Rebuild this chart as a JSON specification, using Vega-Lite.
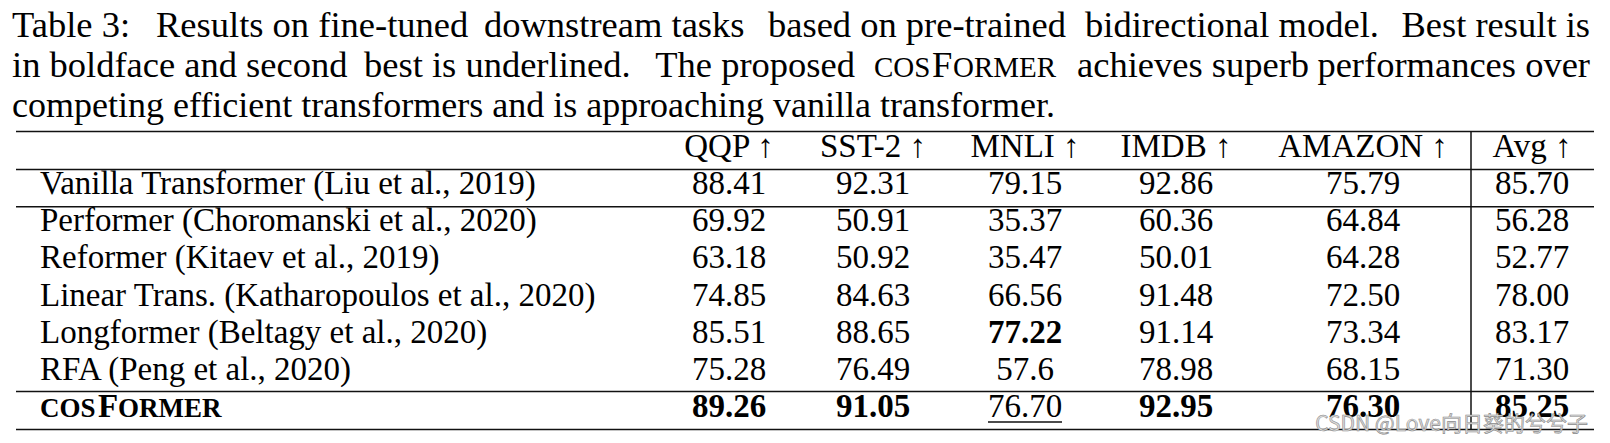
{
  "$schema": "https://vega.github.io/schema/vega-lite/v6.json",
  "width": 1610,
  "height": 443,
  "autosize": {"type": "none"},
  "padding": 0,
  "background": "white",
  "config": {"view": {"stroke": null}, "text": {"font": "Liberation Serif", "baseline": "alphabetic", "color": "black"}},
  "datasets": {
    "table": [
      {"row": 0, "col": 1, "kind": "header", "label": "QQP ↑"},
      {"row": 0, "col": 2, "kind": "header", "label": "SST-2 ↑"},
      {"row": 0, "col": 3, "kind": "header", "label": "MNLI ↑"},
      {"row": 0, "col": 4, "kind": "header", "label": "IMDB ↑"},
      {"row": 0, "col": 5, "kind": "header", "label": "AMAZON ↑"},
      {"row": 0, "col": 6, "kind": "header", "label": "Avg ↑"},
      {"row": 1, "col": 0, "kind": "name", "label": "Vanilla Transformer (Liu et al., 2019)"},
      {"row": 2, "col": 0, "kind": "name", "label": "Performer (Choromanski et al., 2020)"},
      {"row": 3, "col": 0, "kind": "name", "label": "Reformer (Kitaev et al., 2019)"},
      {"row": 4, "col": 0, "kind": "name", "label": "Linear Trans.  (Katharopoulos et al., 2020)"},
      {"row": 5, "col": 0, "kind": "name", "label": "Longformer (Beltagy et al., 2020)"},
      {"row": 6, "col": 0, "kind": "name", "label": "RFA (Peng et al., 2020)"},
      {"row": 7, "col": 0, "kind": "sc1", "label": "COS"},
      {"row": 7, "col": 0, "kind": "sc2", "label": "F"},
      {"row": 7, "col": 0, "kind": "sc3", "label": "ORMER"},
      {"row": 1, "col": 1, "kind": "value", "rank": "", "label": "88.41"},
      {"row": 1, "col": 2, "kind": "value", "rank": "", "label": "92.31"},
      {"row": 1, "col": 3, "kind": "value", "rank": "", "label": "79.15"},
      {"row": 1, "col": 4, "kind": "value", "rank": "", "label": "92.86"},
      {"row": 1, "col": 5, "kind": "value", "rank": "", "label": "75.79"},
      {"row": 1, "col": 6, "kind": "value", "rank": "", "label": "85.70"},
      {"row": 2, "col": 1, "kind": "value", "rank": "", "label": "69.92"},
      {"row": 2, "col": 2, "kind": "value", "rank": "", "label": "50.91"},
      {"row": 2, "col": 3, "kind": "value", "rank": "", "label": "35.37"},
      {"row": 2, "col": 4, "kind": "value", "rank": "", "label": "60.36"},
      {"row": 2, "col": 5, "kind": "value", "rank": "", "label": "64.84"},
      {"row": 2, "col": 6, "kind": "value", "rank": "", "label": "56.28"},
      {"row": 3, "col": 1, "kind": "value", "rank": "", "label": "63.18"},
      {"row": 3, "col": 2, "kind": "value", "rank": "", "label": "50.92"},
      {"row": 3, "col": 3, "kind": "value", "rank": "", "label": "35.47"},
      {"row": 3, "col": 4, "kind": "value", "rank": "", "label": "50.01"},
      {"row": 3, "col": 5, "kind": "value", "rank": "", "label": "64.28"},
      {"row": 3, "col": 6, "kind": "value", "rank": "", "label": "52.77"},
      {"row": 4, "col": 1, "kind": "value", "rank": "", "label": "74.85"},
      {"row": 4, "col": 2, "kind": "value", "rank": "", "label": "84.63"},
      {"row": 4, "col": 3, "kind": "value", "rank": "", "label": "66.56"},
      {"row": 4, "col": 4, "kind": "value", "rank": "", "label": "91.48"},
      {"row": 4, "col": 5, "kind": "value", "rank": "", "label": "72.50"},
      {"row": 4, "col": 6, "kind": "value", "rank": "", "label": "78.00"},
      {"row": 5, "col": 1, "kind": "value", "rank": "", "label": "85.51"},
      {"row": 5, "col": 2, "kind": "value", "rank": "", "label": "88.65"},
      {"row": 5, "col": 3, "kind": "value", "rank": "best", "label": "77.22"},
      {"row": 5, "col": 4, "kind": "value", "rank": "", "label": "91.14"},
      {"row": 5, "col": 5, "kind": "value", "rank": "", "label": "73.34"},
      {"row": 5, "col": 6, "kind": "value", "rank": "", "label": "83.17"},
      {"row": 6, "col": 1, "kind": "value", "rank": "", "label": "75.28"},
      {"row": 6, "col": 2, "kind": "value", "rank": "", "label": "76.49"},
      {"row": 6, "col": 3, "kind": "value", "rank": "", "label": "57.6"},
      {"row": 6, "col": 4, "kind": "value", "rank": "", "label": "78.98"},
      {"row": 6, "col": 5, "kind": "value", "rank": "", "label": "68.15"},
      {"row": 6, "col": 6, "kind": "value", "rank": "", "label": "71.30"},
      {"row": 7, "col": 1, "kind": "value", "rank": "best", "label": "89.26"},
      {"row": 7, "col": 2, "kind": "value", "rank": "best", "label": "91.05"},
      {"row": 7, "col": 3, "kind": "value", "rank": "second", "label": "76.70"},
      {"row": 7, "col": 4, "kind": "value", "rank": "best", "label": "92.95"},
      {"row": 7, "col": 5, "kind": "value", "rank": "best", "label": "76.30"},
      {"row": 7, "col": 6, "kind": "value", "rank": "best", "label": "85.25"}
    ],
    "caption": [
      {"row": -3, "col": -1, "piece": "l1a", "text": "Table 3:"},
      {"row": -3, "col": -1, "piece": "l1b", "text": "Results on fine-tuned"},
      {"row": -3, "col": -1, "piece": "l1c", "text": "downstream tasks"},
      {"row": -3, "col": -1, "piece": "l1d", "text": "based on pre-trained"},
      {"row": -3, "col": -1, "piece": "l1e", "text": "bidirectional model."},
      {"row": -3, "col": 7, "piece": "right", "text": "Best result is"},
      {"row": -2, "col": -1, "piece": "l1a", "text": "in boldface and second"},
      {"row": -2, "col": -1, "piece": "l2b", "text": "best is underlined."},
      {"row": -2, "col": -1, "piece": "l2c", "text": "The proposed"},
      {"row": -2, "col": -1, "piece": "sc1", "text": "COS"},
      {"row": -2, "col": -1, "piece": "sc2", "text": "F"},
      {"row": -2, "col": -1, "piece": "sc3", "text": "ORMER"},
      {"row": -2, "col": -1, "piece": "l2d", "text": "achieves superb"},
      {"row": -2, "col": 7, "piece": "right", "text": "performances over"},
      {"row": -1, "col": -1, "piece": "l3", "text": "competing efficient transformers and is approaching vanilla transformer."}
    ],
    "rules": [
      {"row": 0, "end_row": 0, "col": -1, "end_col": 7, "pos": "above"},
      {"row": 0, "end_row": 0, "col": -1, "end_col": 7, "pos": "below"},
      {"row": 1, "end_row": 1, "col": -1, "end_col": 7, "pos": "below"},
      {"row": 7, "end_row": 7, "col": -1, "end_col": 7, "pos": "above"},
      {"row": 7, "end_row": 7, "col": -1, "end_col": 7, "pos": "below"}
    ],
    "vrule": [
      {"row": 0, "end_row": 7, "col": 6, "end_col": 6, "pos": "before Avg"}
    ],
    "watermark": [
      {"row": 7, "col": 7, "text": "CSDN @Love向日葵的兮兮子"}
    ]
  },
  "encoding": {
    "x": {"field": "col", "type": "quantitative", "axis": null,
      "scale": {"type": "linear", "domain": [-1, 0, 1, 2, 3, 4, 5, 6, 7], "range": [16, 40, 729, 873, 1025, 1176, 1363, 1532, 1594], "zero": false, "nice": false}},
    "y": {"field": "row", "type": "quantitative", "axis": null,
      "scale": {"type": "linear", "domain": [-3, -1, 0, 7], "range": [37, 117, 157, 417], "zero": false, "nice": false}}
  },
  "layer": [
    {
      "data": {"name": "rules"},
      "transform": [{"filter": "datum.pos === 'above'"}],
      "mark": {"type": "rule", "stroke": "#111", "strokeWidth": 1.5, "yOffset": -25.5, "y2Offset": -25.5},
      "encoding": {"x2": {"field": "end_col"}, "y2": {"field": "end_row"}}
    },
    {
      "data": {"name": "rules"},
      "transform": [{"filter": "datum.pos === 'below'"}],
      "mark": {"type": "rule", "stroke": "#111", "strokeWidth": 1.5, "yOffset": 12.5, "y2Offset": 12.5},
      "encoding": {"x2": {"field": "end_col"}, "y2": {"field": "end_row"}}
    },
    {
      "data": {"name": "vrule"},
      "mark": {"type": "rule", "stroke": "#111", "strokeWidth": 1.5, "xOffset": -61, "x2Offset": -61, "yOffset": -25.5, "y2Offset": 12.5},
      "encoding": {"x2": {"field": "end_col"}, "y2": {"field": "end_row"}}
    },
    {
      "data": {"name": "caption"},
      "transform": [{"filter": "datum.piece === 'l1a'"}],
      "mark": {"type": "text", "align": "left", "fontSize": 36.5, "dx": -4},
      "encoding": {"text": {"field": "text"}}
    },
    {
      "data": {"name": "caption"},
      "transform": [{"filter": "datum.piece === 'l1b'"}],
      "mark": {"type": "text", "align": "left", "fontSize": 36.5, "dx": 140},
      "encoding": {"text": {"field": "text"}}
    },
    {
      "data": {"name": "caption"},
      "transform": [{"filter": "datum.piece === 'l1c'"}],
      "mark": {"type": "text", "align": "left", "fontSize": 36.5, "dx": 468},
      "encoding": {"text": {"field": "text"}}
    },
    {
      "data": {"name": "caption"},
      "transform": [{"filter": "datum.piece === 'l1d'"}],
      "mark": {"type": "text", "align": "left", "fontSize": 36.5, "dx": 752},
      "encoding": {"text": {"field": "text"}}
    },
    {
      "data": {"name": "caption"},
      "transform": [{"filter": "datum.piece === 'l1e'"}],
      "mark": {"type": "text", "align": "left", "fontSize": 36.5, "dx": 1069},
      "encoding": {"text": {"field": "text"}}
    },
    {
      "data": {"name": "caption"},
      "transform": [{"filter": "datum.piece === 'right'"}],
      "mark": {"type": "text", "align": "right", "fontSize": 36.5, "dx": -4},
      "encoding": {"text": {"field": "text"}}
    },
    {
      "data": {"name": "caption"},
      "transform": [{"filter": "datum.piece === 'l2b'"}],
      "mark": {"type": "text", "align": "left", "fontSize": 36.5, "dx": 348},
      "encoding": {"text": {"field": "text"}}
    },
    {
      "data": {"name": "caption"},
      "transform": [{"filter": "datum.piece === 'l2c'"}],
      "mark": {"type": "text", "align": "right", "fontSize": 36.5, "dx": 839},
      "encoding": {"text": {"field": "text"}}
    },
    {
      "data": {"name": "caption"},
      "transform": [{"filter": "datum.piece === 'l2d'"}],
      "mark": {"type": "text", "align": "left", "fontSize": 36.5, "dx": 1061},
      "encoding": {"text": {"field": "text"}}
    },
    {
      "data": {"name": "caption"},
      "transform": [{"filter": "datum.piece === 'l3'"}],
      "mark": {"type": "text", "align": "left", "fontSize": 36, "dx": -4},
      "encoding": {"text": {"field": "text"}}
    },
    {
      "data": {"name": "caption"},
      "transform": [{"filter": "datum.piece === 'sc1'"}],
      "mark": {"type": "text", "align": "left", "fontSize": 29, "dx": 858},
      "encoding": {"text": {"field": "text"}}
    },
    {
      "data": {"name": "caption"},
      "transform": [{"filter": "datum.piece === 'sc2'"}],
      "mark": {"type": "text", "align": "left", "fontSize": 36.5, "dx": 916},
      "encoding": {"text": {"field": "text"}}
    },
    {
      "data": {"name": "caption"},
      "transform": [{"filter": "datum.piece === 'sc3'"}],
      "mark": {"type": "text", "align": "left", "fontSize": 29, "dx": 937},
      "encoding": {"text": {"field": "text"}}
    },
    {
      "data": {"name": "table"},
      "transform": [{"filter": "datum.kind === 'header'"}],
      "mark": {"type": "text", "align": "center", "fontSize": 33},
      "encoding": {"text": {"field": "label"}}
    },
    {
      "data": {"name": "table"},
      "transform": [{"filter": "datum.kind === 'name'"}],
      "mark": {"type": "text", "align": "left", "fontSize": 33},
      "encoding": {"text": {"field": "label"}}
    },
    {
      "data": {"name": "table"},
      "transform": [{"filter": "datum.kind === 'sc1'"}],
      "mark": {"type": "text", "align": "left", "fontSize": 27, "fontWeight": "bold"},
      "encoding": {"text": {"field": "label"}}
    },
    {
      "data": {"name": "table"},
      "transform": [{"filter": "datum.kind === 'sc2'"}],
      "mark": {"type": "text", "align": "left", "fontSize": 33, "fontWeight": "bold", "dx": 58},
      "encoding": {"text": {"field": "label"}}
    },
    {
      "data": {"name": "table"},
      "transform": [{"filter": "datum.kind === 'sc3'"}],
      "mark": {"type": "text", "align": "left", "fontSize": 27, "fontWeight": "bold", "dx": 78},
      "encoding": {"text": {"field": "label"}}
    },
    {
      "data": {"name": "table"},
      "transform": [{"filter": "datum.kind === 'value' && datum.rank !== 'best'"}],
      "mark": {"type": "text", "align": "center", "fontSize": 33},
      "encoding": {"text": {"field": "label"}}
    },
    {
      "data": {"name": "table"},
      "transform": [{"filter": "datum.kind === 'value' && datum.rank === 'best'"}],
      "mark": {"type": "text", "align": "center", "fontSize": 33, "fontWeight": "bold"},
      "encoding": {"text": {"field": "label"}}
    },
    {
      "data": {"name": "table"},
      "transform": [{"filter": "datum.rank === 'second'"}],
      "mark": {"type": "rule", "stroke": "#111", "strokeWidth": 1.4, "xOffset": -37, "x2Offset": 37, "yOffset": 5, "y2Offset": 5},
      "encoding": {"x2": {"field": "col"}, "y2": {"field": "row"}}
    },
    {
      "data": {"name": "watermark"},
      "mark": {"type": "text", "align": "right", "font": "Noto Sans CJK SC", "fontSize": 21, "fill": "#dcdcdc", "stroke": "#8a8a8a", "strokeWidth": 0.6, "dx": -6, "dy": 14},
      "encoding": {"text": {"field": "text"}}
    }
  ]
}
